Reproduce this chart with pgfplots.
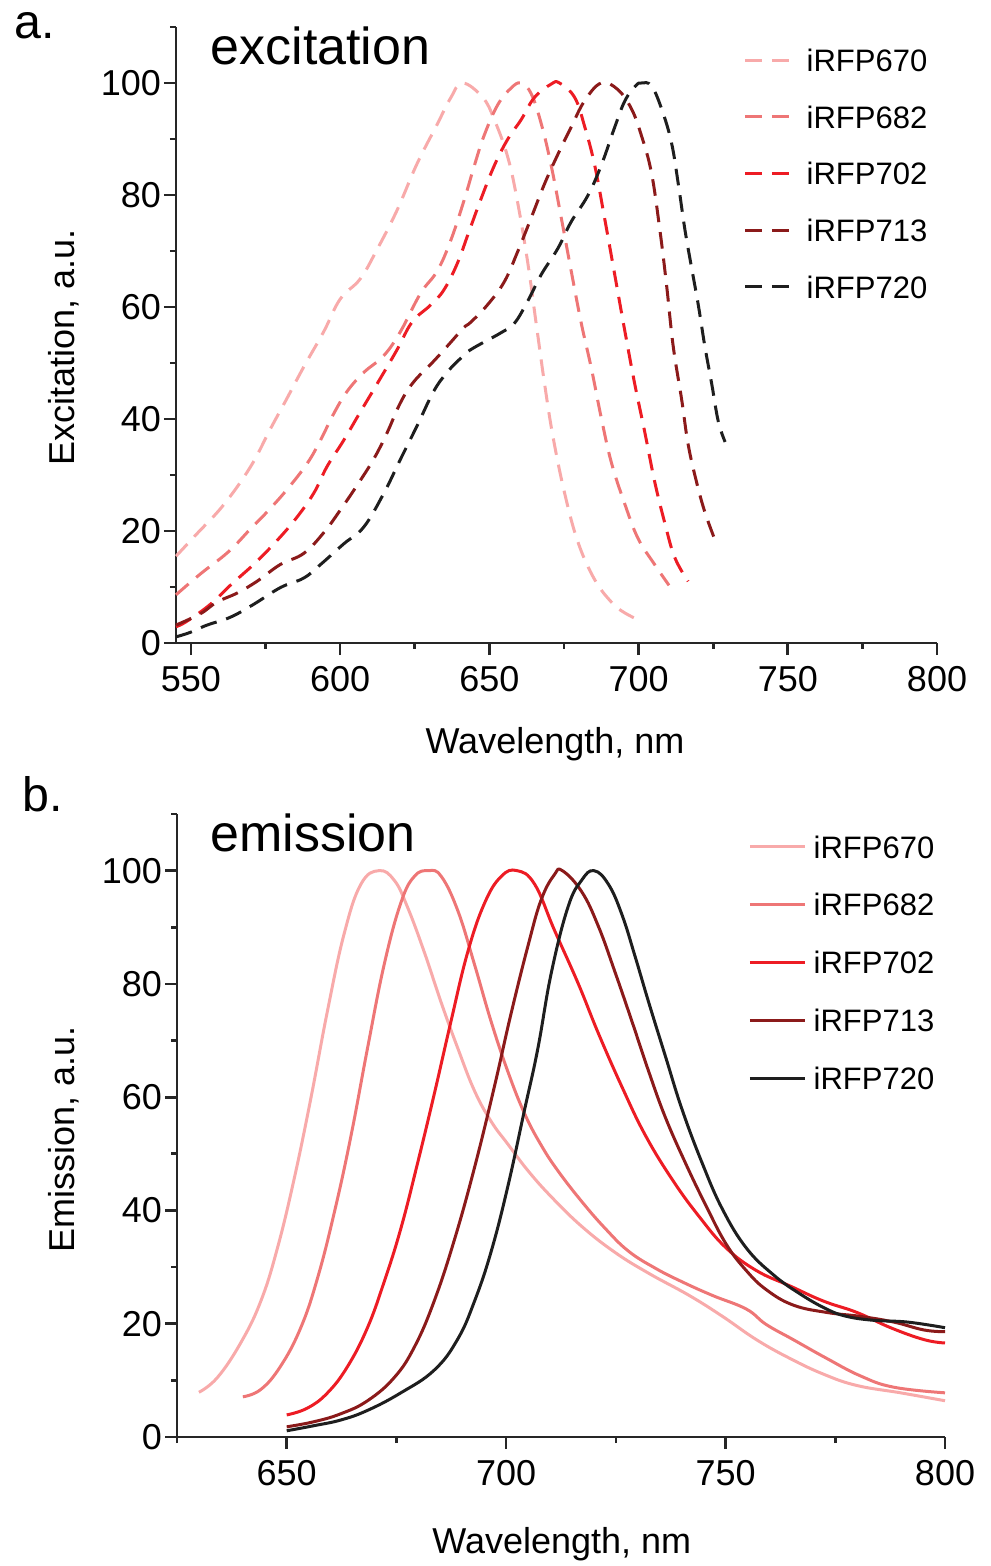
\documentclass[border=0pt]{standalone}
\usepackage{fontspec}
\setmainfont{Liberation Sans}
\usepackage{pgfplots}
\pgfplotsset{compat=1.18}

\definecolor{c670}{RGB}{248,170,170}
\definecolor{c682}{RGB}{238,118,118}
\definecolor{c702}{RGB}{237,28,36}
\definecolor{c713}{RGB}{139,26,26}
\definecolor{c720}{RGB}{30,30,30}

\pgfplotsset{
  spec/.style={
    scale only axis,
    axis x line=bottom, axis y line=left,
    axis line style={-, line width=0.8pt, color=black!85},
    tick style={line width=0.8pt, color=black!85},
    tick align=outside,
    major tick length=3.6pt,
    minor tick length=1.8pt,
    ymin=0, ymax=110,
    ytick={0,20,...,100},
    minor ytick={10,30,...,110},
    ticklabel style={font=\fontsize{10.8}{13}\selectfont},
    yticklabel style={xshift=2.6pt},
    /pgf/number format/assume math mode=true,
    /pgf/number format/1000 sep={},
    label style={font=\fontsize{10.8}{13}\selectfont},
    legend cell align=left,
    clip=false,
  },
  exc/.style={line width=0.9pt, dash pattern=on 5pt off 3pt, smooth, tension=0.65},
  emi/.style={line width=0.9pt, smooth, tension=0.7},
}

\begin{document}
\begin{tikzpicture}
\useasboundingbox (0,0) rectangle (297pt,-469.8pt);

% --- a. excitation ---
\begin{axis}[spec,
  at={(52.8pt,-192.9pt)}, anchor=south west,
  width=228.3pt, height=184.8pt,
  xmin=545, xmax=800,
  xtick={550,600,...,800},
  minor xtick={575,625,...,775},
  xlabel={Wavelength, nm},
  ylabel={Excitation, a.u.},
  xlabel style={at={(axis description cs:0.498,-0.180)}, anchor=base},
  ylabel style={at={(axis description cs:-0.147,0.48)}, anchor=center},
  legend style={at={(axis description cs:0.732,0.976)}, anchor=north west,
    draw=none, fill=none, font=\fontsize{9.3}{11}\selectfont,
    row sep=10.3pt, column sep=4.8pt,
    nodes={inner sep=0pt, text height=6.7pt, text depth=0pt}},
  legend image code/.code={\draw[#1] (0pt,0pt) -- (13.2pt,0pt);},
]
\addplot[exc, c670] coordinates {
(545,15.5)(552,19.5)(561,24.7)(570,31.5)(576.6,38.2)(582,43.5)(587.8,49.3)
(594.5,55.6)(600,61.4)(606.7,65)(612.3,70.2)(619,77.2)(625.7,85.5)(632.5,92.6)
(637,97.3)(641,100)(647.8,97.4)(651.7,93.4)(656.2,86.7)(659.5,78.6)(662.9,67.8)
(665.7,57)(668.5,46.3)(671.3,36.9)(675.2,26.8)(679.7,18)(685.3,11.3)(690.9,7.3)
(695,5.5)(700.4,4)};
\addlegendentry{iRFP670}
\addplot[exc, c682] coordinates {
(545,8.6)(553.1,12.3)(562.6,16.3)(570,20.4)(575.5,23.4)(582.2,27.4)(589,32.1)
(593.4,36.2)(597.8,40.9)(602.3,44.9)(607.9,48.3)(614.6,51.3)(620.2,55.6)
(626.9,62.4)(632.5,66.4)(637,71.8)(641.5,79)(645,85.3)(648.3,90.7)(652.8,96.1)
(657.3,99.1)(660.6,100)(664,98.1)(667.4,92.7)(670.7,85.3)(674.1,75.9)(677.4,66.5)
(680.8,57.1)(684.2,49)(687.5,40.2)(690.9,32.2)(695.4,24.8)(699.8,18.7)(705.4,14)
(710.2,10.3)};
\addlegendentry{iRFP682}
\addplot[exc, c702] coordinates {
(545,2.9)(548.7,3.9)(556.5,6.9)(563.2,10.3)(571.6,14.3)(576.6,17)(584.4,21.7)
(591.1,26.7)(595.6,31.5)(601.2,36.2)(606.7,41.2)(612.3,46.2)(619,52.3)(624.1,57.3)
(630.2,60.3)(634.7,63)(639.2,67.7)(643,73.2)(647.2,79.3)(651.7,85.3)(656.2,90)
(660.6,93.4)(665.1,97.4)(670.7,99.8)(673.5,100)(678.6,97.4)(682,92.1)(685.3,85.3)
(688.6,75.9)(692,65.8)(695.4,55.7)(698.7,46.3)(702.1,37.6)(705.4,28.8)(708.8,21.4)
(712.1,15.3)(716.6,11)};
\addlegendentry{iRFP702}
\addplot[exc, c713] coordinates {
(545,3.2)(553.1,5.2)(558.7,7.3)(565.4,8.9)(572.1,11)(579.9,14)(587.8,16)
(594.5,19.7)(600,23.7)(605.6,28.1)(611.2,32.8)(615.7,37.5)(620.2,42.9)(624.6,46.6)
(631.3,50.3)(636.9,53.6)(641.4,56.3)(643.8,57.3)(649.4,60.4)(655,64.5)(659.5,69.9)
(664,75.9)(668.5,82)(673,87.3)(677.4,92.1)(681.9,96.8)(687.5,100)(693.1,98.8)
(697.6,95.4)(700.9,90.7)(704.3,84)(707.1,73.9)(709.4,63.8)(711.6,53)(714.4,43.6)
(716.6,35.5)(719.4,28.8)(722.2,23.4)(725.6,18.4)};
\addlegendentry{iRFP713}
\addplot[exc, c720] coordinates {
(545,1.1)(549.8,1.9)(555.4,3.2)(563.2,4.6)(571,6.9)(580,9.9)(587.8,11.6)
(593.4,14)(601.2,17.7)(607.9,20.7)(614.6,26.7)(620.2,32.8)(625.8,38.8)(631.3,44.9)
(635.8,48.3)(640.3,50.8)(643.8,52.4)(653.9,55.4)(658.4,57.1)(662.9,61.1)
(667.4,65.8)(673,70.5)(677.4,75.2)(683,79.9)(687.5,85.3)(692,92.1)(695.4,96.8)
(699,99.5)(701,100)(704.3,99.5)(707.7,95.4)(711,89.4)(713.3,82)(715.5,73.9)
(717.7,67.2)(720,60.4)(722.2,53)(724.5,46.3)(726.7,39.6)(729,35.9)};
\addlegendentry{iRFP720}
\end{axis}

% --- b. emission ---
\begin{axis}[spec,
  at={(53.1pt,-431.1pt)}, anchor=south west,
  width=230.4pt, height=186.9pt,
  xmin=625, xmax=800,
  xtick={650,700,750,800},
  minor xtick={625,675,725,775},
  xlabel={Wavelength, nm},
  ylabel={Emission, a.u.},
  xlabel style={at={(axis description cs:0.501,-0.187)}, anchor=base},
  ylabel style={at={(axis description cs:-0.147,0.477)}, anchor=center},
  legend style={at={(axis description cs:0.730,0.977)}, anchor=north west,
    draw=none, fill=none, font=\fontsize{9.3}{11}\selectfont,
    row sep=10.65pt, column sep=2.2pt,
    nodes={inner sep=0pt, text height=6.7pt, text depth=0pt}},
  legend image code/.code={\draw[#1] (0pt,0pt) -- (16.5pt,0pt);},
]
\addplot[emi, c670] coordinates {
(630,7.9)(634.2,10.5)(639.5,16.6)(644.1,24)(647.9,33.4)(651.7,45.6)(655.5,59.8)
(659.3,75.3)(663.1,88.9)(666.9,97.6)(671,100)(674.5,98.3)(677.5,93.6)(681.4,85.5)
(685.2,76.7)(689,68.6)(692.8,61.1)(696.6,55.7)(700.4,51.7)(705,47)(710.3,42.4)
(717.2,37.2)(724.8,32.6)(732.5,28.9)(741.7,25)(749.3,21.3)(757,17.2)(764.6,13.9)
(772.3,11.1)(779.9,9.1)(789.9,7.8)(800,6.4)};
\addlegendentry{iRFP670}
\addplot[emi, c682] coordinates {
(640,7.1)(644.1,8.4)(648.6,12.5)(653.2,19.3)(657,28)(660.8,39.5)(664.6,53)
(668.4,68.6)(672.2,83.4)(676,94.3)(679.1,99)(682.3,100)(685.2,99)(689,92.9)
(692.8,83.4)(696.6,73.3)(700.4,64.5)(704.2,57.1)(708,51.5)(711.8,47)(717.2,41.6)
(722.6,36.8)(727.9,32.8)(734,29.8)(740.1,27.4)(747,25)(754.7,22.6)(759.2,19.9)
(765.4,17.2)(773,13.9)(780.7,10.8)(788.3,8.8)(800,7.8)};
\addlegendentry{iRFP682}
\addplot[emi, c702] coordinates {
(650,3.9)(654.7,5.1)(659.3,7.8)(663.9,12.5)(668.4,19.3)(672.2,27.4)(676,36.8)
(679.8,48.3)(683.6,60.5)(687.4,73.3)(691.2,85.5)(695.1,94.3)(698.9,99)(702.5,100)
(706.5,97.6)(711,89.5)(716.4,80.1)(721,71.3)(726.4,61.8)(731.7,53.3)(737.9,45.4)
(744,38.9)(750.1,33.4)(757,29.4)(764.6,26.7)(772.3,24)(779.9,22)(787.6,19.3)
(795.2,17.2)(800,16.6)};
\addlegendentry{iRFP702}
\addplot[emi, c713] coordinates {
(650,1.8)(656.2,2.7)(662.3,4.1)(668.4,6.4)(674.5,10.5)(679.1,15.9)(683.6,24)
(688.2,34.8)(692.8,47.6)(697.3,61.8)(701.1,74.7)(705,86.8)(708,94.9)(711,99.3)
(712.8,100)(717.2,96.3)(721,90.2)(724.8,82.1)(728.7,73.3)(732.5,64.5)(736.3,56.4)
(740.9,48.3)(745.5,40.9)(750.1,34.1)(754.7,29.4)(759.3,26)(765.4,23.3)(773,22)
(780.7,21.3)(788.3,20.3)(795.2,18.9)(800,18.6)};
\addlegendentry{iRFP713}
\addplot[emi, c720] coordinates {
(650,1.1)(656.2,2)(662.3,3)(668.4,4.7)(676,7.8)(683.6,11.8)(688.9,17.2)
(692.8,24)(696.6,32.8)(700.4,44.3)(704.2,57.8)(707.2,68.5)(710.3,82)(714.1,93.6)
(717.2,98.3)(720,100)(723.3,97.6)(726.4,92.2)(729.4,84.8)(732.5,76.7)(736.3,67.2)
(740.1,57.8)(744.7,48.3)(749.3,40.2)(754.7,33.4)(760.8,28.7)(766.9,25.3)(773,22.6)
(777.6,21.3)(783.8,20.6)(791.4,20.3)(800,19.3)};
\addlegendentry{iRFP720}
\end{axis}

% panel letters and titles
\node[anchor=base west, inner sep=0pt, font=\fontsize{14.5}{16}\selectfont] at (4.2pt,-11.7pt) {a.};
\node[anchor=base west, inner sep=0pt, font=\fontsize{15.6}{18}\selectfont] at (63pt,-19.5pt) {excitation};
\node[anchor=base west, inner sep=0pt, font=\fontsize{14.5}{16}\selectfont] at (6.6pt,-243.3pt) {b.};
\node[anchor=base west, inner sep=0pt, font=\fontsize{15.6}{18}\selectfont] at (63pt,-255.3pt) {emission};
\end{tikzpicture}
\end{document}
